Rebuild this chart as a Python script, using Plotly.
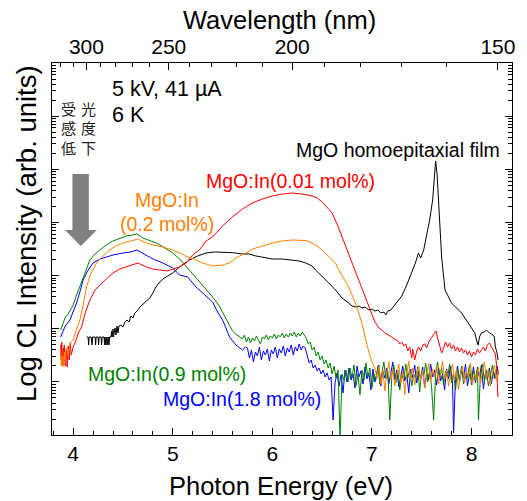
import plotly.graph_objects as go

HC = 1239.84  # eV*nm

# ---- data: (photon energy eV, log10 CL intensity) ----
black_points = [(4.134,1.844),(4.15,1.844),(4.155,1.694),(4.16,1.844),(4.18,1.844),(4.19,1.694),(4.195,1.844),
    (4.22,1.844),(4.225,1.694),(4.23,1.844),(4.25,1.844),(4.255,1.694),(4.26,1.844),(4.28,1.844),(4.285,1.694),
    (4.29,1.844),(4.31,1.844),(4.315,1.694),(4.32,1.844),(4.33,1.694),(4.335,1.844),(4.345,1.694),(4.35,1.844),
    (4.36,1.694),(4.365,1.844),(4.38,1.844),(4.385,1.957),(4.39,1.844),(4.40,1.995),(4.405,1.844),(4.42,2.014),
    (4.43,1.882),(4.44,2.051),(4.45,1.920),(4.46,2.051),(4.48,2.070),(4.50,2.032),(4.52,2.127),(4.54,2.164),
    (4.56,2.127),(4.58,2.240),(4.60,2.202),(4.62,2.296),(4.65,2.352),(4.68,2.428),(4.71,2.484),(4.74,2.522),
    (4.77,2.578),(4.80,2.672),(4.83,2.785),(4.87,2.879),(4.90,2.936),(4.95,2.992),(5.0,3.049),(5.08,3.180),
    (5.167,3.293),(5.25,3.369),(5.334,3.425),(5.42,3.444),(5.50,3.444),(5.60,3.431),(5.70,3.406),(5.767,3.406),
    (5.834,3.369),(5.934,3.331),(6.0,3.312),(6.10,3.312),(6.20,3.293),(6.267,3.274),(6.334,3.237),(6.40,3.180),
    (6.434,3.105),(6.50,2.992),(6.567,2.860),(6.634,2.729),(6.70,2.578),(6.767,2.484),(6.80,2.428),(6.834,2.409),
    (6.87,2.428),(6.90,2.390),(6.93,2.409),(6.97,2.352),(7.00,2.371),(7.03,2.333),(7.06,2.352),(7.09,2.296),
    (7.12,2.315),(7.14,2.259),(7.16,2.333),(7.19,2.352),(7.23,2.446),(7.27,2.540),(7.30,2.616),(7.35,2.823),
    (7.40,3.049),(7.44,3.256),(7.467,3.425),(7.49,3.331),(7.52,3.481),(7.55,3.745),(7.58,4.046),(7.61,4.422),
    (7.63,4.893),(7.64,5.156),(7.655,4.893),(7.667,4.422),(7.685,3.764),(7.70,3.350),(7.734,2.729),(7.80,2.484),
    (7.85,2.390),(7.90,2.296),(7.967,2.108),(8.034,1.920),(8.05,1.788),(8.067,1.694),(8.08,1.844),(8.10,1.920),
    (8.13,1.938),(8.15,1.976),(8.18,1.920),(8.217,1.882),(8.23,1.844),(8.24,1.656),(8.255,1.562),(8.267,1.411)]

red_points = [(3.874,1.694),(3.88,1.411),(3.885,1.750),(3.89,1.317),(3.90,1.637),(3.905,1.374),(3.91,1.694),
    (3.92,1.298),(3.93,1.600),(3.94,1.280),(3.95,1.675),(3.96,1.411),(3.97,1.731),(3.98,1.505),(4.0,1.656),
    (4.03,1.788),(4.05,1.920),(4.084,2.032),(4.12,2.296),(4.167,2.540),(4.22,2.729),(4.267,2.823),(4.334,2.936),
    (4.40,3.049),(4.467,3.124),(4.534,3.161),(4.60,3.199),(4.65,3.237),(4.734,3.161),(4.80,3.124),(4.867,3.105),
    (4.95,3.086),(5.0,3.124),(5.067,3.161),(5.134,3.237),(5.20,3.387),(5.267,3.481),(5.334,3.650),(5.40,3.726),
    (5.50,3.933),(5.60,4.103),(5.70,4.253),(5.80,4.366),(5.90,4.441),(6.0,4.498),(6.10,4.535),(6.20,4.554),
    (6.30,4.535),(6.40,4.498),(6.45,4.460),(6.50,4.385),(6.55,4.291),(6.60,4.178),(6.65,3.971),(6.70,3.726),
    (6.75,3.481),(6.80,3.237),(6.85,2.973),(6.90,2.729),(6.95,2.503),(7.00,2.277),(7.03,2.127),(7.07,2.014),
    (7.10,1.976),(7.13,1.920),(7.17,1.882),(7.20,1.844),(7.23,1.807),(7.26,1.769),(7.28,1.713),(7.30,1.750),
    (7.32,1.675),(7.34,1.713),(7.36,1.581),(7.38,1.656),(7.40,1.449),(7.41,1.618),(7.43,1.411),(7.45,1.581),
    (7.47,1.656),(7.49,1.581),(7.51,1.694),(7.53,1.713),(7.55,1.637),(7.57,1.750),(7.59,1.807),(7.61,1.863),
    (7.63,1.920),(7.645,1.957),(7.66,1.825),(7.68,1.694),(7.70,1.543),(7.72,1.637),(7.74,1.750),(7.76,1.656),
    (7.78,1.731),(7.80,1.618),(7.82,1.694),(7.84,1.581),(7.86,1.656),(7.88,1.562),(7.90,1.637),(7.92,1.543),
    (7.94,1.600),(7.96,1.505),(7.98,1.581),(8.00,1.468),(8.02,1.562),(8.04,1.505),(8.06,1.618),(8.08,1.543),
    (8.10,1.600),(8.12,1.656),(8.14,1.581),(8.16,1.694),(8.18,1.731),(8.20,1.656),(8.22,1.581),(8.24,1.524),
    (8.255,1.261),(8.265,0.715)]

orange_points = [(3.874,1.600),(3.88,1.298),(3.89,1.487),(3.90,1.280),(3.91,1.562),(3.92,1.374),(3.93,1.637),
    (3.95,1.505),(3.97,1.731),(4.0,1.788),(4.03,1.976),(4.067,2.164),(4.10,2.446),(4.134,2.785),(4.17,3.011),
    (4.234,3.237),(4.30,3.369),(4.367,3.481),(4.43,3.557),(4.50,3.613),(4.58,3.651),(4.65,3.688),(4.734,3.613),
    (4.80,3.575),(4.90,3.538),(5.0,3.481),(5.067,3.425),(5.15,3.350),(5.234,3.293),(5.30,3.237),(5.40,3.180),
    (5.50,3.199),(5.567,3.237),(5.65,3.350),(5.734,3.425),(5.80,3.500),(5.934,3.575),(6.0,3.613),(6.10,3.651),
    (6.20,3.670),(6.35,3.657),(6.434,3.575),(6.50,3.481),(6.567,3.350),(6.634,3.237),(6.667,3.105),(6.70,2.992),
    (6.767,2.785),(6.834,2.484),(6.90,2.108),(6.95,1.694),(6.98,1.505),(7.00,1.374),(7.03,1.261),
    (7.05,1.073),(7.07,1.298),(7.09,0.960),(7.11,1.223),(7.13,0.828),(7.15,1.167),(7.17,1.374),(7.19,1.035),
    (7.21,1.242),(7.23,0.922),(7.25,1.148),(7.27,1.336),(7.29,0.979),(7.31,1.205),(7.33,0.753),(7.35,1.148),
    (7.37,1.392),(7.39,1.054),(7.41,1.261),(7.43,0.941),(7.45,1.148),(7.47,1.298),(7.49,1.017),(7.51,1.223),
    (7.53,0.885),(7.55,1.148),(7.57,1.355),(7.59,0.997),(7.61,1.242),(7.63,1.092),(7.65,1.317),(7.67,0.960),
    (7.69,1.148),(7.71,1.392),(7.73,1.035),(7.75,1.223),(7.77,0.922),(7.79,1.167),(7.81,1.336),(7.83,1.017),
    (7.85,1.242),(7.87,0.847),(7.89,1.148),(7.91,1.298),(7.93,0.979),(7.95,1.205),(7.97,1.073),(7.99,1.355),
    (8.01,0.941),(8.03,1.148),(8.05,1.035),(8.07,1.280),(8.09,0.960),(8.11,1.205),(8.13,1.374),(8.15,1.054),
    (8.17,1.242),(8.19,0.922),(8.21,1.167),(8.23,1.317),(8.25,1.017),(8.27,1.223)]

green_points = [(3.874,1.976),(3.89,2.051),(3.917,2.202),(3.95,2.277),(4.0,2.446),(4.03,2.616),(4.067,2.785),
    (4.10,2.955),(4.167,3.293),(4.22,3.406),(4.267,3.481),(4.33,3.575),(4.40,3.651),(4.47,3.707),(4.534,3.745),
    (4.60,3.764),(4.64,3.783),(4.70,3.707),(4.77,3.651),(4.834,3.613),(4.92,3.519),(5.0,3.425),(5.08,3.293),
    (5.167,3.105),(5.25,2.917),(5.334,2.729),(5.40,2.597),(5.467,2.428),(5.53,2.202),(5.60,1.957),(5.63,1.901),
    (5.667,1.844),(5.70,1.807),(5.72,1.882),(5.74,1.750),(5.76,1.844),(5.78,1.731),(5.80,1.825),(5.82,1.769),
    (5.84,1.863),(5.86,1.788),(5.88,1.713),(5.90,1.844),(5.92,1.807),(5.94,1.882),(5.96,1.788),(5.98,1.863),
    (6.00,1.825),(6.02,1.901),(6.04,1.807),(6.06,1.882),(6.08,1.844),(6.10,1.920),(6.12,1.825),(6.14,1.901),
    (6.16,1.844),(6.18,1.920),(6.20,1.863),(6.22,1.938),(6.24,1.844),(6.26,1.920),(6.28,1.863),(6.30,1.938),
    (6.32,1.882),(6.34,1.825),(6.36,1.713),(6.38,1.750),(6.40,1.600),(6.42,1.656),(6.44,1.487),(6.46,1.562),
    (6.48,1.411),(6.50,1.487),(6.52,1.336),(6.54,1.411),(6.56,1.261),(6.58,1.355),(6.60,1.148),(6.62,1.298),
    (6.64,1.073),(6.66,1.223),(6.68,-0.100),(6.70,1.148),(6.72,1.035),(6.74,1.223),(6.76,0.997),(6.78,1.261),
    (6.80,1.073),(6.82,1.317),(6.84,0.922),(6.86,1.148),(6.88,0.753),(6.90,1.223),(6.92,1.035),(6.94,1.355),
    (6.96,1.092),(6.98,1.261),(7.00,0.885),(7.02,1.148),(7.04,1.035),(7.06,1.298),(7.08,0.960),(7.10,1.148),
    (7.12,1.374),(7.14,1.054),(7.16,1.205),(7.18,0.282),(7.20,1.129),(7.22,1.317),(7.24,0.979),(7.26,1.223),
    (7.28,0.847),(7.30,1.148),(7.32,1.017),(7.34,1.336),(7.36,1.073),(7.38,1.242),(7.40,0.922),(7.42,1.148),
    (7.44,1.054),(7.46,1.280),(7.48,0.809),(7.50,1.205),(7.52,1.092),(7.54,1.355),(7.56,0.997),(7.58,1.223),
    (7.60,0.885),(7.62,0.282),(7.64,1.129),(7.66,1.374),(7.68,1.035),(7.70,1.261),(7.72,0.941),(7.74,1.205),
    (7.76,1.073),(7.78,1.336),(7.80,0.979),(7.82,1.148),(7.84,0.847),(7.86,1.242),(7.88,1.054),(7.90,1.298),
    (7.92,0.960),(7.94,1.148),(7.96,1.073),(7.98,1.317),(8.00,0.941),(8.02,1.223),(8.04,1.035),(8.06,1.280),
    (8.07,0.282),(8.09,1.129),(8.11,1.336),(8.13,1.017),(8.15,1.223),(8.17,0.922),(8.19,1.148),(8.21,1.317),
    (8.23,1.054),(8.25,1.242),(8.27,1.129)]

blue_points = [(3.874,1.844),(3.89,1.920),(3.92,2.051),(3.967,2.164),(4.0,2.315),(4.034,2.484),(4.067,2.691),
    (4.10,2.917),(4.15,3.105),(4.20,3.237),(4.27,3.312),(4.334,3.350),(4.40,3.387),(4.50,3.425),(4.58,3.444),
    (4.64,3.481),(4.734,3.387),(4.80,3.312),(4.90,3.237),(5.0,3.142),(5.067,3.011),(5.15,2.973),(5.234,2.785),
    (5.30,2.672),(5.35,2.597),(5.40,2.503),(5.45,2.315),(5.50,2.164),(5.534,2.014),(5.57,1.844),(5.634,1.694),
    (5.70,1.600),(5.73,1.656),(5.75,1.637),(5.77,1.449),(5.79,1.600),(5.81,1.374),(5.83,1.562),(5.85,1.487),
    (5.87,1.656),(5.89,1.411),(5.91,1.581),(5.93,1.505),(5.95,1.618),(5.97,1.392),(5.99,1.600),(6.01,1.524),
    (6.03,1.656),(6.05,1.449),(6.07,1.618),(6.09,1.543),(6.11,1.675),(6.13,1.487),(6.15,1.637),(6.17,1.562),
    (6.19,1.694),(6.21,1.505),(6.23,1.656),(6.25,1.581),(6.27,1.713),(6.29,1.600),(6.31,1.675),(6.33,1.637),
    (6.35,1.487),(6.37,1.355),(6.39,1.411),(6.41,1.261),(6.43,1.317),(6.45,1.205),(6.47,1.261),(6.49,1.148),
    (6.51,1.223),(6.53,1.092),(6.55,1.167),(6.57,1.035),(6.59,1.092),(6.61,0.282),(6.63,0.979),(6.65,1.167),
    (6.67,0.922),(6.69,1.129),(6.71,0.791),(6.73,1.223),(6.75,0.997),(6.77,1.261),(6.79,1.035),(6.81,1.148),
    (6.83,0.885),(6.85,1.298),(6.87,1.092),(6.89,1.205),(6.91,0.960),(6.93,1.280),(6.95,1.054),(6.97,1.167),
    (6.99,0.847),(7.01,1.242),(7.03,0.997),(7.05,1.148),(7.07,1.317),(7.09,0.922),(7.11,1.205),(7.13,1.073),
    (7.15,1.261),(7.17,0.960),(7.19,1.167),(7.21,1.374),(7.23,1.035),(7.25,1.223),(7.27,0.903),(7.29,1.129),
    (7.31,1.298),(7.33,1.017),(7.35,1.148),(7.37,0.791),(7.39,1.242),(7.41,1.073),(7.43,1.317),(7.45,0.979),
    (7.47,1.205),(7.49,1.054),(7.51,1.280),(7.53,0.885),(7.55,1.167),(7.57,1.035),(7.59,1.336),(7.61,1.092),
    (7.63,1.223),(7.65,0.941),(7.67,1.261),(7.69,1.017),(7.71,1.148),(7.73,0.847),(7.75,1.242),(7.77,1.054),
    (7.79,1.298),(7.81,0.960),(7.82,0.038),(7.84,1.110),(7.86,1.298),(7.88,0.997),(7.90,1.205),(7.92,1.073),
    (7.94,1.336),(7.96,0.922),(7.98,1.148),(8.00,1.035),(8.02,1.280),(8.04,0.979),(8.06,1.223),(8.08,1.092),
    (8.10,1.317),(8.12,0.866),(8.14,1.167),(8.16,1.035),(8.18,1.261),(8.20,0.960),(8.22,1.205),(8.24,1.073),
    (8.26,1.298),(8.27,1.148)]

series_names = ["MgO homoepitaxial film", "MgO:In(1.8 mol%)", "MgO:In(0.9 mol%)",
                "MgO:In(0.01 mol%)", "MgO:In(0.2 mol%)"]
series_points = [black_points, blue_points, green_points, red_points, orange_points]
series_colors = ["#000000", "#0000ff", "#008000", "#ff0000", "#ff8000"]

energy_ticks = [4, 5, 6, 7, 8]
wavelength_ticks = [300, 250, 200, 150]
wavelength_minor = list(range(150, 330, 10))
x_range = [3.787, 8.407]
log_range = [0, 7]

# ---- layout geometry (pixels) ----
W, H = 527, 501
ML, MR, MT, MB = 52, 13, 63, 66
PW, PH = W - ML - MR, H - MT - MB


def px(x):
    return (x - ML) / PW


def py(y):
    return (H - MB - y) / PH


FONT = "Liberation Sans, Arial, sans-serif"
fig = go.Figure()

for name, pts, col in zip(series_names, series_points, series_colors):
    fig.add_trace(go.Scatter(
        x=[p[0] for p in pts], y=[10 ** p[1] for p in pts], mode="lines",
        line=dict(color=col, width=1), name=name, showlegend=False))

# invisible trace to anchor the top wavelength axis
fig.add_trace(go.Scatter(x=[], y=[], xaxis="x2", yaxis="y", showlegend=False))

decades = [10 ** d for d in range(log_range[0], log_range[1] + 1)]
minor_y = [k * 10 ** d for d in range(log_range[0], log_range[1]) for k in range(2, 10)]

fig.update_layout(
    width=W, height=H, margin=dict(l=ML, r=MR, t=MT, b=MB),
    paper_bgcolor="white", plot_bgcolor="white",
    font=dict(family=FONT, color="black"),
    xaxis=dict(range=x_range, tickmode="array", tickvals=energy_ticks,
               ticks="inside", ticklen=7, tickwidth=1, tickcolor="black",
               showline=True, linecolor="black", linewidth=1, showgrid=False, zeroline=False,
               tickfont=dict(size=21, family=FONT),
               minor=dict(tickmode="linear", tick0=4, dtick=0.2, ticks="inside", ticklen=4,
                          tickcolor="black", showgrid=False)),
    xaxis2=dict(range=x_range, overlaying="x", side="top", anchor="y", tickmode="array",
                tickvals=[HC / w for w in wavelength_ticks], ticktext=[str(w) for w in wavelength_ticks],
                ticks="inside", ticklen=7, tickwidth=1, tickcolor="black",
                showline=True, linecolor="black", linewidth=1, showgrid=False, zeroline=False,
                tickfont=dict(size=21, family=FONT),
                minor=dict(tickmode="array", tickvals=[HC / w for w in wavelength_minor],
                           ticks="inside", ticklen=4, tickcolor="black", showgrid=False)),
    yaxis=dict(type="log", range=log_range, tickmode="array", tickvals=decades,
               showticklabels=False, ticks="inside", ticklen=7, tickwidth=1, tickcolor="black",
               showline=True, linecolor="black", linewidth=1, mirror="ticks",
               showgrid=False, zeroline=False,
               minor=dict(tickmode="array", tickvals=minor_y, ticks="inside", ticklen=4,
                          tickcolor="black", showgrid=False)),
)


def ann(text, x, y, color="black", size=19.5, xanchor="center", angle=0, family=FONT):
    fig.add_annotation(text=text, x=px(x), y=py(y), xref="paper", yref="paper",
                       xanchor=xanchor, yanchor="middle", showarrow=False, textangle=angle,
                       font=dict(size=size, color=color, family=family))


# axis titles
ann("Wavelength (nm)", 280, 20, size=25.5)
ann("Photon Energy (eV)", 282, 486, size=25.5)
ann("Log CL Intensity (arb. units)", 26, 234, size=27.5, angle=-90)

# conditions
ann("5 kV, 41 µA", 110, 89, size=21.5, xanchor="left")
ann("6 K", 110, 115, size=21.5, xanchor="left")

# Japanese note 受光感度低下
jp_rows = [("受", "光"), ("感", "度"), ("低", "下")]
for i, (a, b) in enumerate(jp_rows):
    ann(a, 69, 108 + 19.5 * i, color="#222222", size=15, family="Noto Sans CJK JP")
    ann(b, 89, 108 + 19.5 * i, color="#222222", size=15, family="Noto Sans CJK JP")

# gray arrow
arrow_px = [(72.5, 174), (89, 174), (89, 230), (97, 230), (81, 246), (65, 230), (72.5, 230)]
path = "M " + " L ".join(f"{px(x):.4f} {py(y):.4f}" for x, y in arrow_px) + " Z"
fig.add_shape(type="path", path=path, xref="paper", yref="paper",
              fillcolor="#808080", line=dict(width=0))

# series labels
ann("MgO homoepitaxial film", 400, 150, color="#000000")
ann("MgO:In(0.01 mol%)", 292, 181, color="#ff0000")
ann("MgO:In", 167, 200, color="#ff8000")
ann("(0.2 mol%)", 167, 224, color="#ff8000")
ann("MgO:In(0.9 mol%)", 167, 374, color="#008000")
ann("MgO:In(1.8 mol%)", 243, 399, color="#0000ff")

fig.write_html("out.html", config={"displayModeBar": False},
               post_script="document.body.style.margin='0';document.body.style.overflow='hidden';")
